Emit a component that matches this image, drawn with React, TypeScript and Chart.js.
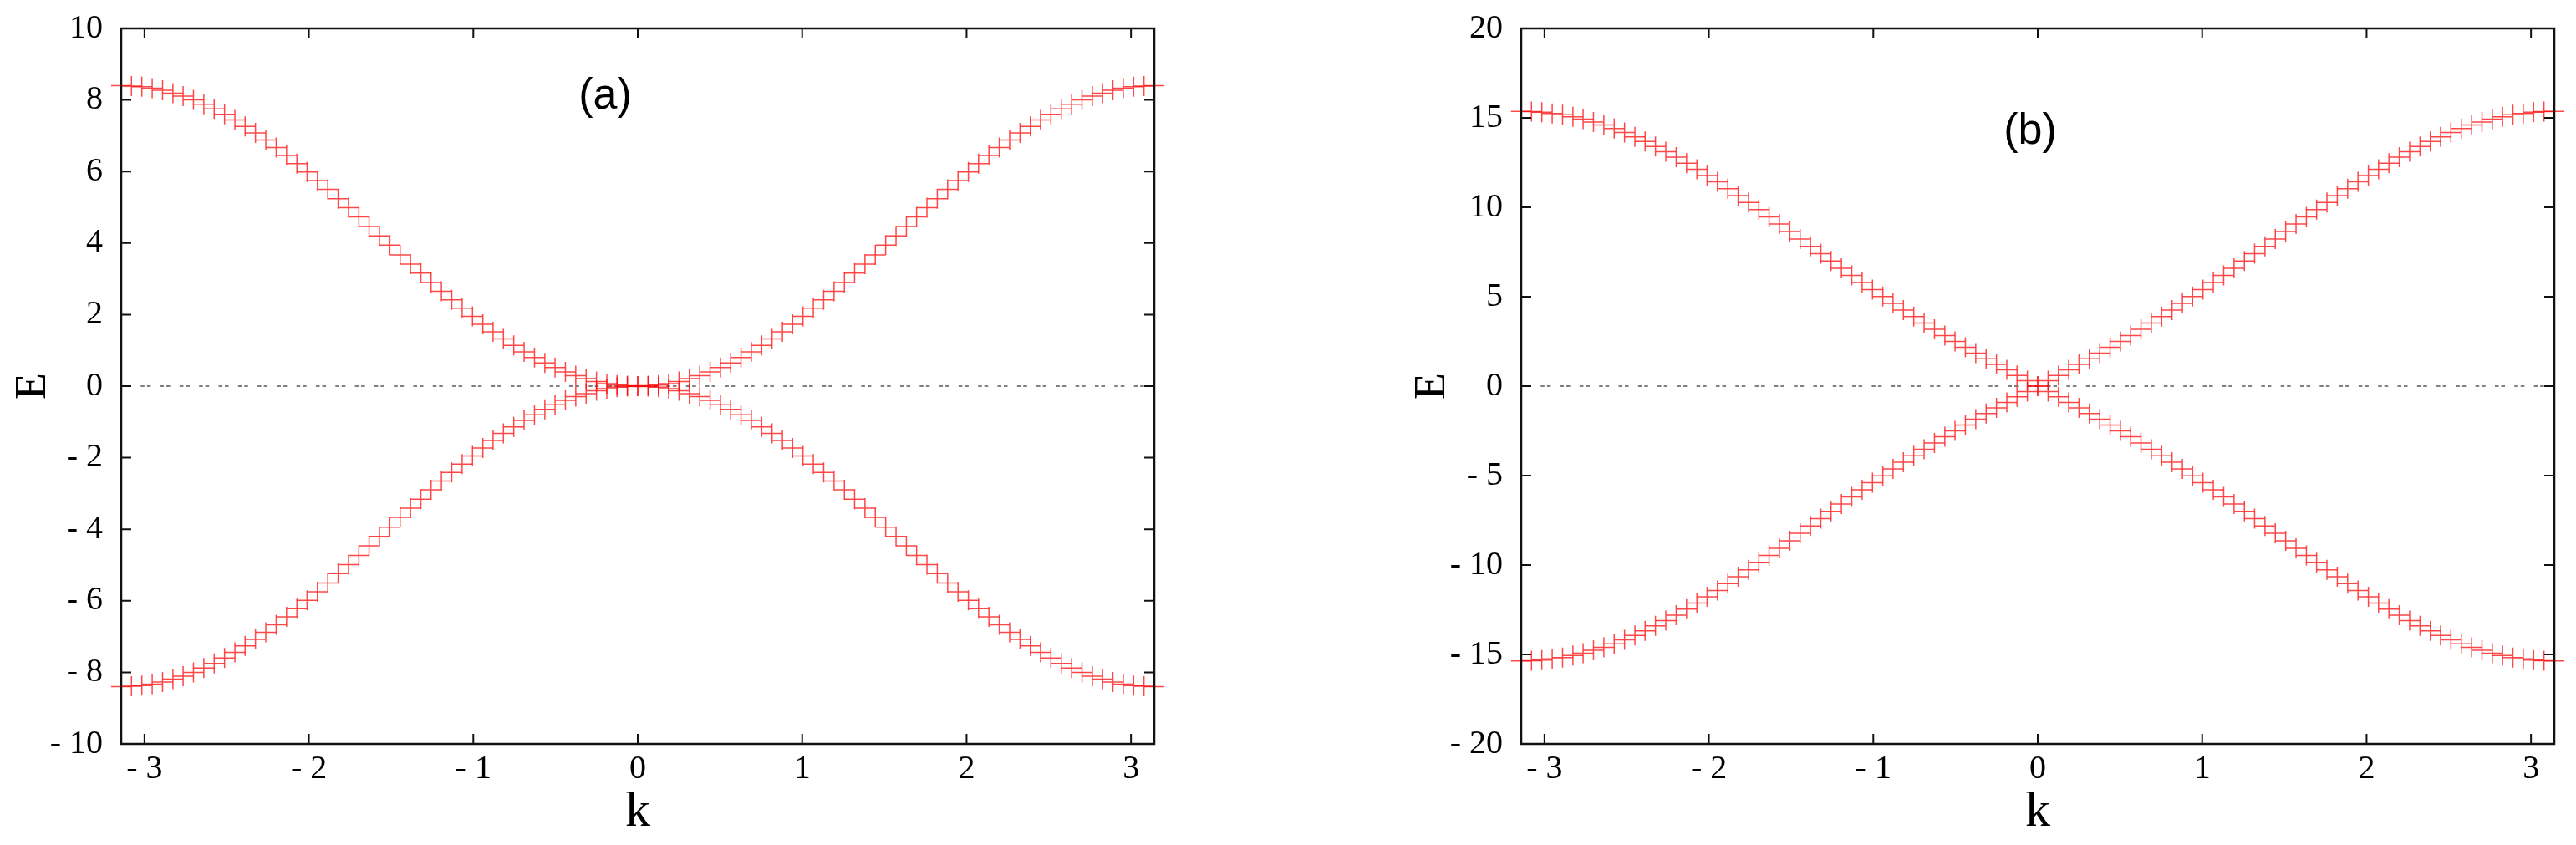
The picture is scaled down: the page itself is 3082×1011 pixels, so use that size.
import React, { useEffect, useRef } from 'react';
import { Chart, registerables } from 'chart.js';

Chart.register(...registerables);

// ---------------- data ----------------
const K = [
  -3.142, -3.079, -3.016, -2.953, -2.89, -2.827, -2.765, -2.702, -2.639, -2.576,
  -2.513, -2.45, -2.388, -2.325, -2.262, -2.199, -2.136, -2.073, -2.011, -1.948,
  -1.885, -1.822, -1.759, -1.696, -1.634, -1.571, -1.508, -1.445, -1.382, -1.319,
  -1.257, -1.194, -1.131, -1.068, -1.005, -0.942, -0.88, -0.817, -0.754, -0.691,
  -0.628, -0.565, -0.503, -0.44, -0.377, -0.314, -0.251, -0.188, -0.126, -0.063,
  0,
  0.063, 0.126, 0.188, 0.251, 0.314, 0.377, 0.44, 0.503, 0.565, 0.628,
  0.691, 0.754, 0.817, 0.88, 0.942, 1.005, 1.068, 1.131, 1.194, 1.257,
  1.319, 1.382, 1.445, 1.508, 1.571, 1.634, 1.696, 1.759, 1.822, 1.885,
  1.948, 2.011, 2.073, 2.136, 2.199, 2.262, 2.325, 2.388, 2.45, 2.513,
  2.576, 2.639, 2.702, 2.765, 2.827, 2.89, 2.953, 3.016, 3.079, 3.142,
];

const BAND_A_UPPER = [
  8.40, 8.39, 8.37, 8.33, 8.27, 8.19, 8.11, 8.00, 7.88, 7.75,
  7.60, 7.44, 7.26, 7.08, 6.88, 6.67, 6.45, 6.22, 5.99, 5.75,
  5.50, 5.24, 4.99, 4.73, 4.46, 4.20, 3.94, 3.67, 3.41, 3.16,
  2.90, 2.65, 2.41, 2.18, 1.95, 1.73, 1.52, 1.32, 1.14, 0.96,
  0.80, 0.65, 0.52, 0.40, 0.29, 0.21, 0.13, 0.07, 0.03, 0.01,
  0.00,
  0.01, 0.03, 0.07, 0.13, 0.21, 0.29, 0.40, 0.52, 0.65, 0.80,
  0.96, 1.14, 1.32, 1.52, 1.73, 1.95, 2.18, 2.41, 2.65, 2.90,
  3.16, 3.41, 3.67, 3.94, 4.20, 4.46, 4.73, 4.99, 5.24, 5.50,
  5.75, 5.99, 6.22, 6.45, 6.67, 6.88, 7.08, 7.26, 7.44, 7.60,
  7.75, 7.88, 8.00, 8.11, 8.19, 8.27, 8.33, 8.37, 8.39, 8.40,
];

const BAND_A_LOWER = [
  -8.40, -8.39, -8.37, -8.33, -8.27, -8.19, -8.11, -8.00, -7.88, -7.75,
  -7.60, -7.44, -7.26, -7.08, -6.88, -6.67, -6.45, -6.22, -5.99, -5.75,
  -5.50, -5.24, -4.99, -4.73, -4.46, -4.20, -3.94, -3.67, -3.41, -3.16,
  -2.90, -2.65, -2.41, -2.18, -1.95, -1.73, -1.52, -1.32, -1.14, -0.96,
  -0.80, -0.65, -0.52, -0.40, -0.29, -0.21, -0.13, -0.07, -0.03, -0.01,
  0.00,
  -0.01, -0.03, -0.07, -0.13, -0.21, -0.29, -0.40, -0.52, -0.65, -0.80,
  -0.96, -1.14, -1.32, -1.52, -1.73, -1.95, -2.18, -2.41, -2.65, -2.90,
  -3.16, -3.41, -3.67, -3.94, -4.20, -4.46, -4.73, -4.99, -5.24, -5.50,
  -5.75, -5.99, -6.22, -6.45, -6.67, -6.88, -7.08, -7.26, -7.44, -7.60,
  -7.75, -7.88, -8.00, -8.11, -8.19, -8.27, -8.33, -8.37, -8.39, -8.40,
];

const BAND_B_UPPER = [
  15.36, 15.35, 15.31, 15.25, 15.17, 15.06, 14.93, 14.77, 14.60, 14.40,
  14.18, 13.94, 13.68, 13.40, 13.11, 12.80, 12.47, 12.13, 11.78, 11.42,
  11.04, 10.66, 10.27, 9.87, 9.46, 9.06, 8.65, 8.23, 7.82, 7.41,
  7.00, 6.59, 6.19, 5.79, 5.40, 5.01, 4.63, 4.25, 3.89, 3.53,
  3.18, 2.83, 2.50, 2.17, 1.85, 1.53, 1.22, 0.91, 0.60, 0.30,
  0.00,
  0.30, 0.60, 0.91, 1.22, 1.53, 1.85, 2.17, 2.50, 2.83, 3.18,
  3.53, 3.89, 4.25, 4.63, 5.01, 5.40, 5.79, 6.19, 6.59, 7.00,
  7.41, 7.82, 8.23, 8.65, 9.06, 9.46, 9.87, 10.27, 10.66, 11.04,
  11.42, 11.78, 12.13, 12.47, 12.80, 13.11, 13.40, 13.68, 13.94, 14.18,
  14.40, 14.60, 14.77, 14.93, 15.06, 15.17, 15.25, 15.31, 15.35, 15.36,
];

const BAND_B_LOWER = [
  -15.36, -15.35, -15.31, -15.25, -15.17, -15.06, -14.93, -14.77, -14.60, -14.40,
  -14.18, -13.94, -13.68, -13.40, -13.11, -12.80, -12.47, -12.13, -11.78, -11.42,
  -11.04, -10.66, -10.27, -9.87, -9.46, -9.06, -8.65, -8.23, -7.82, -7.41,
  -7.00, -6.59, -6.19, -5.79, -5.40, -5.01, -4.63, -4.25, -3.89, -3.53,
  -3.18, -2.83, -2.50, -2.17, -1.85, -1.53, -1.22, -0.91, -0.60, -0.30,
  0.00,
  -0.30, -0.60, -0.91, -1.22, -1.53, -1.85, -2.17, -2.50, -2.83, -3.18,
  -3.53, -3.89, -4.25, -4.63, -5.01, -5.40, -5.79, -6.19, -6.59, -7.00,
  -7.41, -7.82, -8.23, -8.65, -9.06, -9.46, -9.87, -10.27, -10.66, -11.04,
  -11.42, -11.78, -12.13, -12.47, -12.80, -13.11, -13.40, -13.68, -13.94, -14.18,
  -14.40, -14.60, -14.77, -14.93, -15.06, -15.17, -15.25, -15.31, -15.35, -15.36,
];

const K_MIN = -Math.PI;
const K_MAX = Math.PI;
const K_TICKS = [-3, -2, -1, 0, 1, 2, 3];
const E_TICKS_A = [-10, -8, -6, -4, -2, 0, 2, 4, 6, 8, 10];
const E_TICKS_B = [-20, -15, -10, -5, 0, 5, 10, 15, 20];
const ZERO_LINE_K = [-Math.PI, Math.PI];
const ZERO_LINE_E = [0, 0];
const X_TITLE = 'k';
const Y_TITLE = 'E';
const PANEL_LABEL_A = '(a)';
const PANEL_LABEL_B = '(b)';

// ---------------- drawing ----------------
const SERIF = '"Liberation Serif", "Times New Roman", serif';
const SANS = '"Liberation Sans", Arial, sans-serif';
const RED = 'rgba(255,0,0,0.72)';

const fmtTick = (v: number) => (v < 0 ? '- ' + Math.abs(v) : String(v));

const framePlugin = {
  id: 'frame',
  afterDatasetsDraw(chart: any, _args: any, opts: any) {
    const { ctx, chartArea, scales } = chart;
    const { left, right, top, bottom } = chartArea;
    const x = scales.x;
    const y = scales.y;
    ctx.save();
    ctx.strokeStyle = '#111';
    ctx.lineWidth = 2;
    ctx.beginPath();
    const tl = 12;
    (opts.xTicks || []).forEach((v: number) => {
      const px = x.getPixelForValue(v);
      ctx.moveTo(px, bottom);
      ctx.lineTo(px, bottom - tl);
      ctx.moveTo(px, top);
      ctx.lineTo(px, top + tl);
    });
    (opts.yTicks || []).forEach((v: number) => {
      const py = y.getPixelForValue(v);
      ctx.moveTo(left, py);
      ctx.lineTo(left + tl, py);
      ctx.moveTo(right, py);
      ctx.lineTo(right - tl, py);
    });
    ctx.stroke();
    ctx.lineWidth = 2.5;
    ctx.strokeRect(left, top, right - left, bottom - top);
    if (opts.label) {
      ctx.fillStyle = '#000';
      ctx.font = '52px ' + SANS;
      ctx.textAlign = 'center';
      ctx.textBaseline = 'middle';
      ctx.fillText(opts.label, x.getPixelForValue(opts.labelK), y.getPixelForValue(opts.labelE));
    }
    ctx.restore();
  },
};

type PanelProps = {
  upper: number[];
  lower: number[];
  yTicks: number[];
  yMin: number;
  yMax: number;
  yAxisWidth: number;
  rightPad: number;
  yTitlePad: number;
  label: string;
  labelK: number;
  labelE: number;
};

function Panel(p: PanelProps) {
  const ref = useRef<HTMLCanvasElement | null>(null);
  useEffect(() => {
    if (!ref.current) return;
    const pts = (ys: number[]) => K.map((k, i) => ({ x: k, y: ys[i] }));
    const crossStyle = {
      showLine: false,
      pointStyle: 'cross',
      pointRadius: 12,
      pointHoverRadius: 12,
      pointBorderWidth: 1.5,
      pointBorderColor: RED,
      pointBackgroundColor: RED,
      clip: false,
    };
    const chart = new Chart(ref.current, {
      type: 'scatter',
      data: {
        datasets: [
          {
            data: ZERO_LINE_K.map((k, i) => ({ x: k, y: ZERO_LINE_E[i] })),
            showLine: true,
            borderColor: '#808080',
            borderWidth: 2,
            borderDash: [4.5, 3, 4.5, 11.3],
            pointRadius: 0,
            order: 3,
          } as any,
          { data: pts(p.upper), ...crossStyle, order: 1 } as any,
          { data: pts(p.lower), ...crossStyle, order: 2 } as any,
        ],
      },
      options: {
        animation: false,
        responsive: false,
        devicePixelRatio: 1,
        events: [],
        layout: { padding: { left: 0, right: p.rightPad, top: 34, bottom: 0 } },
        plugins: {
          legend: { display: false },
          tooltip: { enabled: false },
          frame: {
            xTicks: K_TICKS,
            yTicks: p.yTicks,
            label: p.label,
            labelK: p.labelK,
            labelE: p.labelE,
          },
        } as any,
        scales: {
          x: {
            type: 'linear',
            min: K_MIN,
            max: K_MAX,
            afterBuildTicks: (s: any) => {
              s.ticks = K_TICKS.map((v) => ({ value: v }));
            },
            afterFit: (s: any) => {
              s.height = 121;
            },
            grid: { display: false, drawTicks: false },
            border: { display: false },
            ticks: {
              padding: 6,
              color: '#000',
              font: { family: SERIF, size: 40 },
              maxRotation: 0,
              autoSkip: false,
              callback: (v: any) => fmtTick(Number(v)),
            },
            title: {
              display: true,
              text: X_TITLE,
              color: '#000',
              font: { family: SERIF, size: 60 },
              padding: { top: 0, bottom: 3 },
            },
          },
          y: {
            type: 'linear',
            min: p.yMin,
            max: p.yMax,
            afterBuildTicks: (s: any) => {
              s.ticks = p.yTicks.map((v) => ({ value: v }));
            },
            afterFit: (s: any) => {
              s.width = p.yAxisWidth;
              s.paddingTop = 0;
              s.paddingBottom = 0;
            },
            grid: { display: false, drawTicks: false },
            border: { display: false },
            ticks: {
              padding: 22,
              color: '#000',
              font: { family: SERIF, size: 40, lineHeight: 0.5 },
              autoSkip: false,
              callback: (v: any) => fmtTick(Number(v)),
            },
            title: {
              display: true,
              text: Y_TITLE,
              color: '#000',
              font: { family: SERIF, size: 52 },
              padding: { top: p.yTitlePad, bottom: 0 },
            },
          },
        },
      },
      plugins: [framePlugin as any],
    });
    return () => chart.destroy();
  }, []);
  return <canvas ref={ref} width={1541} height={1011} style={{ display: 'block', width: 1541, height: 1011 }} />;
}

export default function App() {
  return (
    <div
      style={{
        position: 'absolute',
        left: 0,
        top: 0,
        width: 3082,
        height: 1011,
        display: 'flex',
        background: '#fff',
        overflow: 'hidden',
      }}
    >
      <Panel
        upper={BAND_A_UPPER}
        lower={BAND_A_LOWER}
        yTicks={E_TICKS_A}
        yMin={-10}
        yMax={10}
        yAxisWidth={145}
        rightPad={160}
        yTitlePad={9}
        label={PANEL_LABEL_A}
        labelK={-0.198}
        labelE={8.1}
      />
      <Panel
        upper={BAND_B_UPPER}
        lower={BAND_B_LOWER}
        yTicks={E_TICKS_B}
        yMin={-20}
        yMax={20}
        yAxisWidth={279}
        rightPad={26}
        yTitlePad={142}
        label={PANEL_LABEL_B}
        labelK={-0.046}
        labelE={14.24}
      />
    </div>
  );
}
